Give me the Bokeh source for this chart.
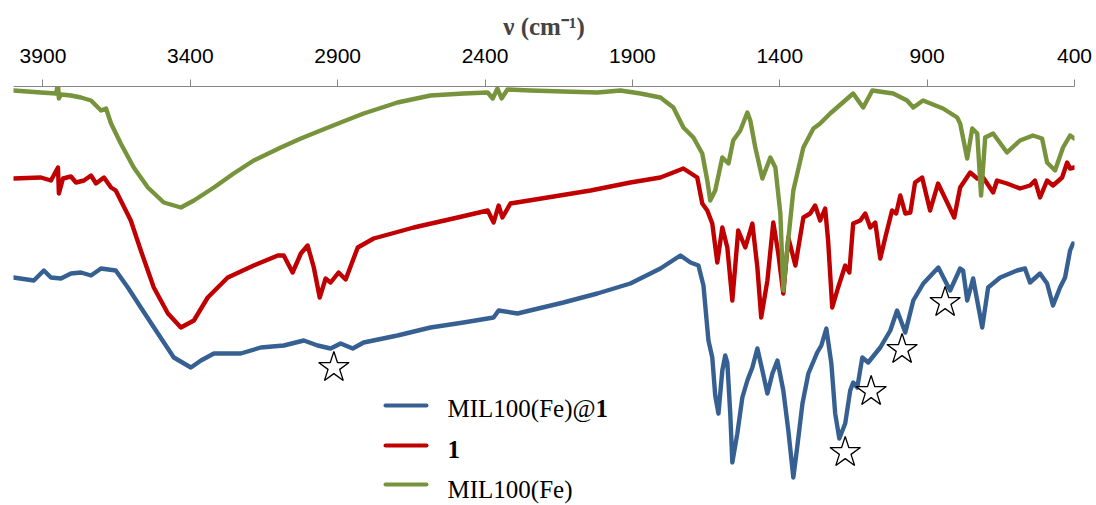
from bokeh.plotting import figure
from bokeh.models import Range1d, FixedTicker, Label, BoxAnnotation
from bokeh.embed import file_html
from bokeh.resources import INLINE

# ---- data (wavenumber in cm-1, transmittance in arbitrary offset units) ----
wn_mil = [4000, 3907, 3856, 3849, 3846, 3839, 3805, 3771, 3737, 3703, 3686, 3669, 3636, 3592, 3544,
          3490, 3432, 3388, 3320, 3253, 3185, 3093, 3025, 2958, 2890, 2812, 2697, 2585, 2473, 2391,
          2374, 2358, 2344, 2324, 2246, 2134, 2019, 1941, 1873, 1805, 1761, 1727, 1693, 1663, 1646,
          1636, 1619, 1595, 1574, 1558, 1534, 1510, 1500, 1483, 1459, 1432, 1415, 1398, 1388, 1374,
          1354, 1320, 1286, 1263, 1229, 1151, 1117, 1086, 1015, 968, 947, 914, 846, 798, 788, 764,
          747, 730, 717, 703, 676, 629, 585, 541, 510, 493, 466, 439, 415, 401]
t_mil = [410, 408, 407, 416, 402, 406, 405, 403, 400, 390, 392, 377, 357, 333, 313,
         298, 293, 300, 313, 327, 340, 353, 362, 370, 378, 387, 398, 405, 407, 408,
         402, 412, 402, 411, 410, 409, 408, 410, 407, 403, 393, 373, 363, 347, 320,
         300, 310, 343, 337, 360, 370, 388, 380, 353, 322, 343, 333, 287, 210, 253,
         310, 353, 372, 377, 387, 407, 393, 410, 407, 400, 393, 400, 392, 383, 377, 342,
         372, 367, 305, 363, 367, 348, 360, 365, 362, 338, 330, 353, 365, 362]

wn_one = [4000, 3907, 3873, 3849, 3846, 3832, 3805, 3788, 3761, 3737, 3720, 3693, 3669, 3653, 3636,
          3602, 3568, 3524, 3476, 3432, 3388, 3341, 3273, 3185, 3103, 3083, 3053, 3025, 3002, 2981,
          2961, 2941, 2924, 2897, 2873, 2832, 2778, 2642, 2493, 2391, 2371, 2354, 2341, 2314, 2188,
          2042, 1907, 1805, 1727, 1680, 1663, 1646, 1629, 1612, 1595, 1578, 1561, 1541, 1517, 1493,
          1476, 1463, 1442, 1422, 1405, 1388, 1371, 1347, 1320, 1297, 1280, 1263, 1246, 1236, 1222,
          1202, 1178, 1164, 1151, 1127, 1110, 1093, 1076, 1059, 1042, 1019, 1005, 991, 974, 957,
          941, 917, 890, 863, 832, 808, 788, 754, 730, 710, 676, 663, 629, 585, 551,
          534, 517, 493, 473, 442, 425, 415, 401]
t_one = [322, 323, 320, 333, 307, 322, 324, 318, 320, 325, 317, 323, 313, 310, 300,
         280, 250, 213, 187, 173, 180, 203, 223, 235, 245, 245, 228, 247, 255, 233,
         203, 222, 218, 228, 221, 253, 262, 273, 283, 290, 278, 295, 283, 297, 303,
         310, 318, 323, 332, 323, 297, 290, 277, 238, 273, 253, 200, 270, 253, 277,
         233, 183, 220, 278, 247, 207, 263, 235, 283, 287, 295, 280, 292, 260, 193,
         213, 235, 228, 277, 280, 287, 273, 278, 242, 263, 290, 287, 305, 287, 288,
         318, 323, 290, 317, 298, 283, 313, 328, 322, 323, 308, 320, 317, 312, 315,
         320, 303, 320, 315, 323, 338, 332, 333]

wn_comp = [4000, 3931, 3897, 3873, 3839, 3805, 3771, 3737, 3703, 3653, 3612, 3568, 3510, 3456, 3398,
           3364, 3320, 3229, 3161, 3083, 3015, 2968, 2924, 2890, 2849, 2812, 2697, 2585, 2473, 2371,
           2354, 2290, 2134, 2019, 1907, 1805, 1737, 1703, 1676, 1659, 1642, 1629, 1619, 1608, 1595,
           1585, 1578, 1568, 1561, 1544, 1527, 1510, 1493, 1476, 1459, 1442, 1425, 1408, 1388, 1371,
           1354, 1341, 1323, 1303, 1273, 1259, 1242, 1225, 1212, 1198, 1178, 1161, 1151, 1137, 1120,
           1100, 1059, 1025, 1002, 974, 947, 913, 862, 822, 788, 778, 764, 744, 713, 693,
           652, 595, 568, 551, 517, 493, 473, 449, 432, 415, 405]
t_comp = [223, 220, 230, 223, 222, 227, 228, 225, 232, 230, 213, 193, 167, 143, 133,
          140, 147, 147, 153, 155, 160, 155, 152, 157, 152, 158, 165, 173, 178, 183,
          190, 187, 198, 207, 217, 232, 245, 238, 235, 215, 160, 143, 105, 87, 130,
          145, 138, 87, 38, 67, 103, 120, 133, 152, 130, 107, 127, 140, 110, 70,
          23, 53, 97, 127, 148, 155, 172, 137, 87, 62, 77, 110, 118, 113, 143,
          138, 153, 170, 190, 168, 200, 217, 233, 210, 232, 230, 200, 222, 173, 213,
          223, 230, 232, 218, 227, 217, 195, 213, 223, 250, 257]

star_wn = [2913, 1178, 1090, 985, 839]
star_t = [133, 48, 109, 151, 198]

ticks = [3900, 3400, 2900, 2400, 1900, 1400, 900, 400]

BLUE = "#376092"
RED = "#C00000"
GREEN = "#77933C"

p = figure(width=1096, height=505, output_backend="svg", toolbar_location=None,
           x_axis_location="above", y_axis_location=None,
           x_range=Range1d(4000, 400), y_range=Range1d(-5, 414),
           min_border_left=13, min_border_right=22, min_border_bottom=0, min_border_top=86)
p.outline_line_color = None
p.grid.visible = False
p.background_fill_color = "white"

LW = 4.4
p.line(wn_comp, t_comp, line_color=BLUE, line_width=LW, line_join="round", line_cap="round")
p.line(wn_one, t_one, line_color=RED, line_width=LW, line_join="round", line_cap="round")
p.line(wn_mil, t_mil, line_color=GREEN, line_width=LW, line_join="round", line_cap="round")
p.scatter(star_wn, star_t, marker="star", size=32, fill_color="white", line_color="black", line_width=1.3)

ax = p.xaxis[0]
ax.ticker = FixedTicker(ticks=ticks)
ax.axis_label = "\u03bd (cm\u207b\u00b9)"
ax.axis_label_text_font = "Liberation Serif"
ax.axis_label_text_font_style = "bold"
ax.axis_label_text_font_size = "25px"
ax.axis_label_standoff = 6
ax.major_label_text_font = "Liberation Sans"
ax.major_label_text_font_size = "21px"
ax.major_label_text_color = "black"
ax.major_label_standoff = 17
ax.axis_line_color = "#868686"
ax.major_tick_line_color = "#868686"
ax.major_tick_out = 7
ax.major_tick_in = 0
ax.minor_tick_out = 0
ax.minor_tick_in = 0

# legend (custom, screen units relative to the frame)
for c, yc in [(BLUE, 100), (RED, 60), (GREEN, 21)]:
    p.add_layout(BoxAnnotation(left=370, right=415, bottom=yc - 2, top=yc + 2,
                               left_units="screen", right_units="screen",
                               bottom_units="screen", top_units="screen",
                               fill_color=c, fill_alpha=1, line_alpha=0, border_radius=2))
lab_kw = dict(x_units="screen", y_units="screen", text_font="Liberation Serif",
              text_font_size="25px", text_baseline="middle", text_color="black")
p.add_layout(Label(x=434, y=97, text="MIL100(Fe)@", **lab_kw))
p.add_layout(Label(x=582, y=97, text="1", text_font_style="bold", **lab_kw))
p.add_layout(Label(x=434, y=56, text="1", text_font_style="bold", **lab_kw))
p.add_layout(Label(x=434, y=16, text="MIL100(Fe)", **lab_kw))

open("out.html", "w").write(file_html(p, INLINE))
